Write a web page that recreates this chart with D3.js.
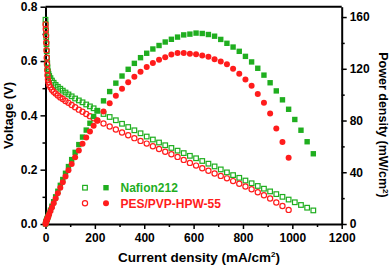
<!DOCTYPE html>
<html><head><meta charset="utf-8">
<script src="https://cdn.jsdelivr.net/npm/d3@7"></script>
<style>
html,body{margin:0;padding:0;background:#fff;}
svg{display:block;font-family:"Liberation Sans",Arial,sans-serif;font-weight:bold;}
</style></head>
<body>
<svg id="c" width="392" height="271"></svg>
<script>
// ---- data ----
const nafionCurrent = [0,1,2,3,4,5,6,7,8,10,12,15,20,26,33,41,50,60,70,81,93,106,120,135,150,165,180,195,
  210,235,260,285,310,335,360,385,410,435,460,485,510,535,560,585,610,635,660,685,710,735,760,785,810,835,860,885,910,935,960,985,1010,1035,1060,1085];
const nafionVoltage = [0.752,0.735,0.712,0.688,0.662,0.636,0.612,0.592,0.576,0.562,0.553,0.545,0.537,0.528,0.520,0.512,0.505,0.498,0.491,0.484,0.477,0.470,0.462,0.455,0.448,0.440,0.433,0.426,
  0.417,0.405,0.394,0.382,0.369,0.357,0.345,0.334,0.322,0.311,0.300,0.290,0.280,0.270,0.261,0.251,0.242,0.232,0.222,0.212,0.201,0.190,0.180,0.170,0.160,0.150,0.140,0.130,0.120,0.110,0.100,0.090,0.080,0.070,0.060,0.050];
const nafionPower = [0,0.74,1.42,2.06,2.65,3.18,3.67,4.14,4.61,5.62,6.64,8.18,10.7,13.7,17.2,21.0,25.3,29.9,34.4,39.2,44.4,49.8,55.4,61.4,67.2,72.6,77.9,83.1,
  87.6,95.2,102.4,108.9,114.4,119.6,124.2,128.6,132.0,135.3,138.0,140.7,142.8,144.5,146.2,146.8,147.6,147.3,146.5,145.2,142.7,139.7,136.8,133.5,129.6,125.3,120.4,115.1,109.2,102.9,96.0,88.7,80.8,72.5,63.6,54.3];

const pesCurrent = [0,1,2,3,4,5,6,7,8,10,12,15,20,26,33,41,50,60,70,81,93,106,120,135,150,165,180,195,
  210,235,260,285,310,335,360,385,410,435,460,485,510,535,560,585,610,635,660,685,710,735,760,785,810,835,860,885,910,935,960,985];
const pesVoltage = [0.735,0.718,0.695,0.668,0.640,0.612,0.588,0.566,0.548,0.532,0.522,0.512,0.503,0.494,0.487,0.480,0.473,0.466,0.460,0.453,0.446,0.438,0.430,0.421,0.413,0.405,0.397,0.389,
  0.381,0.370,0.359,0.348,0.337,0.327,0.316,0.306,0.296,0.286,0.276,0.266,0.257,0.247,0.236,0.225,0.215,0.205,0.196,0.186,0.177,0.168,0.158,0.148,0.138,0.128,0.117,0.106,0.094,0.079,0.066,0.052];
const pesPower = [0,0.72,1.39,2.00,2.56,3.06,3.53,3.96,4.38,5.32,6.26,7.68,10.1,12.8,16.1,19.7,23.7,28.0,32.2,36.7,41.5,46.4,51.6,56.8,62.0,66.8,71.5,75.9,
  80.0,87.0,93.3,99.2,104.5,109.6,113.8,117.8,121.4,124.4,127.0,129.0,131.1,132.2,132.2,131.6,131.2,130.2,129.4,127.4,125.7,123.5,120.1,116.2,111.8,106.9,100.6,93.8,85.5,73.9,63.4,51.2];

const xTicks = [0,200,400,600,800,1000,1200];
const yVTicks = [0.0,0.2,0.4,0.6,0.8];
const yPTicks = [0,40,80,120,160];
const seriesNames = ["Nafion212","PES/PVP-HPW-55"];

// ---- drawing ----
const green = "#1fae1f", red = "#ff1c1c";
const svg = d3.select("#c");
const x = d3.scaleLinear().domain([0,1200]).range([45.5,341.7]);
const yV = d3.scaleLinear().domain([0,0.8]).range([224,6.7]);
const yP = d3.scaleLinear().domain([0,168]).range([224,6.7]);

function styleAxis(g){
  g.selectAll("path.domain").attr("stroke","#000").attr("stroke-width",2);
  g.selectAll(".tick line").attr("stroke","#000").attr("stroke-width",1.5);
  g.selectAll("text").attr("font-size",12).attr("font-weight","bold").attr("fill","#000")
    .attr("font-family","'Liberation Sans',Arial,sans-serif");
}
// minor ticks
const gMinX = svg.append("g").attr("transform","translate(0,224)")
  .call(d3.axisBottom(x).tickValues([100,300,500,700,900,1100]).tickSize(3).tickFormat("")).call(styleAxis);
gMinX.select("path.domain").remove();
const gMinL = svg.append("g").attr("transform","translate(45.5,0)")
  .call(d3.axisLeft(yV).tickValues([0.1,0.3,0.5,0.7]).tickSize(3).tickFormat("")).call(styleAxis);
gMinL.select("path.domain").remove();
const gMinR = svg.append("g").attr("transform","translate(341.7,0)")
  .call(d3.axisRight(yP).tickValues([20,60,100,140]).tickSize(3).tickFormat("")).call(styleAxis);
gMinR.select("path.domain").remove();

svg.append("g").attr("transform","translate(0,224)")
  .call(d3.axisBottom(x).tickValues(xTicks).tickSize(5).tickSizeOuter(0).tickPadding(4).tickFormat(d3.format("d"))).call(styleAxis);
svg.append("g").attr("transform","translate(45.5,0)")
  .call(d3.axisLeft(yV).tickValues(yVTicks).tickSize(5).tickSizeOuter(0).tickPadding(3).tickFormat(d3.format(".1f"))).call(styleAxis);
svg.append("g").attr("transform","translate(341.7,0)")
  .call(d3.axisRight(yP).tickValues(yPTicks).tickSize(5).tickSizeOuter(0).tickPadding(3).tickFormat(d3.format("d"))).call(styleAxis);
// top frame
svg.append("line").attr("x1",x(0)).attr("x2",x(1200)).attr("y1",yV(0.8)).attr("y2",yV(0.8))
  .attr("stroke","#000").attr("stroke-width",2);

// markers
function squares(cur, vals, yS, fill, open, size){
  svg.append("g").selectAll("rect").data(cur).join("rect")
    .attr("x",(d)=>x(d)-size/2).attr("y",(d,i)=>yS(vals[i])-size/2)
    .attr("width",size).attr("height",size)
    .attr("fill",open?"#fff":fill).attr("fill-opacity",open?0:1)
    .attr("stroke",fill).attr("stroke-width",open?1.2:0);
}
function circles(cur, vals, yS, fill, open, r){
  svg.append("g").selectAll("circle").data(cur).join("circle")
    .attr("cx",(d)=>x(d)).attr("cy",(d,i)=>yS(vals[i])).attr("r",r)
    .attr("fill",open?"#fff":fill).attr("fill-opacity",open?0:1)
    .attr("stroke",fill).attr("stroke-width",open?1.2:0);
}
squares(nafionCurrent, nafionVoltage, yV, green, true, 4.6);
circles(pesCurrent, pesVoltage, yV, red, true, 2.6);
squares(nafionCurrent, nafionPower, yP, green, false, 5.4);
circles(pesCurrent, pesPower, yP, red, false, 3.0);

// legend
const lg = svg.append("g");
[[187.7,green],[203.3,red]].forEach(([ly,col],k)=>{
  if(k===0){
    lg.append("rect").attr("x",85-2.3).attr("y",ly-2.3).attr("width",4.6).attr("height",4.6)
      .attr("fill","none").attr("stroke",col).attr("stroke-width",1.2);
    lg.append("rect").attr("x",106-2.7).attr("y",ly-2.7).attr("width",5.4).attr("height",5.4).attr("fill",col);
  } else {
    lg.append("circle").attr("cx",85).attr("cy",ly).attr("r",2.6).attr("fill","none").attr("stroke",col).attr("stroke-width",1.2);
    lg.append("circle").attr("cx",106).attr("cy",ly).attr("r",3).attr("fill",col);
  }
  lg.append("text").attr("x",120.5).attr("y",ly+4.3).attr("font-size",12).attr("fill",col).text(seriesNames[k]);
});

// axis titles
const xt = svg.append("text").attr("x",199).attr("y",262).attr("text-anchor","middle").attr("font-size",13.5);
xt.append("tspan").text("Current density (mA/cm");
xt.append("tspan").attr("dy",-5).attr("font-size",8).text("2");
xt.append("tspan").attr("dy",5).text(")");

svg.append("text").attr("transform","translate(13,115.5) rotate(-90)").attr("text-anchor","middle")
  .attr("font-size",13).text("Voltage (V)");

const rt = svg.append("text").attr("transform","translate(378.5,125) rotate(90)").attr("text-anchor","middle").attr("font-size",12.5);
rt.append("tspan").text("Power density (mW/cm");
rt.append("tspan").attr("dy",-4.5).attr("font-size",8).text("2");
rt.append("tspan").attr("dy",4.5).text(")");
</script>
</body></html>
